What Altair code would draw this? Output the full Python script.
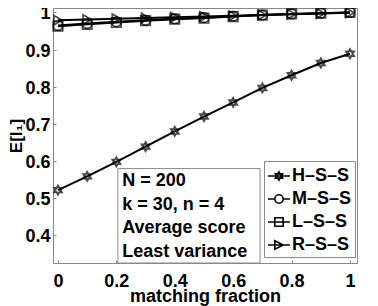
import altair as alt
import pandas as pd
import re

frac = [0.0, 0.1, 0.2, 0.3, 0.4, 0.5, 0.6, 0.7, 0.8, 0.9, 1.0]
hss = [0.522, 0.559, 0.598, 0.639, 0.680, 0.720, 0.758, 0.797, 0.831, 0.864, 0.889]
mss = [0.965, 0.970, 0.975, 0.979, 0.983, 0.986, 0.990, 0.993, 0.996, 0.998, 1.000]
lss = [0.963, 0.968, 0.973, 0.978, 0.982, 0.985, 0.989, 0.993, 0.996, 0.998, 1.000]
rss = [0.979, 0.981, 0.983, 0.985, 0.987, 0.989, 0.991, 0.993, 0.995, 0.997, 0.999]
series_names = ["H–S–S", "M–S–S", "L–S–S", "R–S–S"]
series_vals = [hss, mss, lss, rss]

x_ticks = [0, 0.2, 0.4, 0.6, 0.8, 1]
y_ticks = [0.4, 0.5, 0.6, 0.7, 0.8, 0.9, 1.0]
note_lines = ["N = 200", "k = 30, n = 4", "Average score", "Least variance"]

HEX = "M0,-1L0.866,0.5L-0.866,0.5ZM0,1L0.866,-0.5L-0.866,-0.5Z"
marker_shapes = [HEX, "circle", "square", "triangle-right"]
r = 0.38
def scale_path(p, k):
    return re.sub(r"-?\d+\.?\d*", lambda m: f"{float(m.group())*k:.3f}", p)
leg_hex = "M-1,0L1,0" + scale_path(HEX, r)
leg_circ = (f"M-1,0L{-r},0M{r},0L1,0M{r},0A{r},{r} 0 1,1 {-r},0A{r},{r} 0 1,1 {r},0")
leg_sq = f"M-1,0L1,0M{-r},{-r}L{r},{-r}L{r},{r}L{-r},{r}Z"
leg_tri = f"M-1,0L1,0M{-r},{-r}L{r},0L{-r},{r}Z"
legend_shapes = [leg_hex, leg_circ, leg_sq, leg_tri]

rows = []
for name, vals in zip(series_names, series_vals):
    for f, v in zip(frac, vals):
        rows.append({"frac": f, "val": v, "series": name})
df = pd.DataFrame(rows)

FONT = "Liberation Sans"
xscale = alt.Scale(domain=[-0.017, 1.024], nice=False, zero=False)
yscale = alt.Scale(domain=[0.326, 1.012], nice=False, zero=False)

xenc = alt.X("frac:Q", scale=xscale, title="matching fraction",
             axis=alt.Axis(values=x_ticks, format="~g", grid=False, domain=False,
                           tickSize=3, offset=-3, labelPadding=9, tickColor="#888888",
                           labelFont=FONT, labelFontSize=18, labelFontWeight="bold",
                           labelColor="black", titleFont=FONT, titleFontSize=18,
                           titleFontWeight="bold", titleColor="black", titlePadding=-3))
yenc = alt.Y("val:Q", scale=yscale, title="E[I₁]",
             axis=alt.Axis(values=y_ticks, format="~g", grid=False, domain=False,
                           tickSize=3, offset=-3, labelPadding=3, labelOffset=1.5,
                           tickColor="#888888",
                           labelFont=FONT, labelFontSize=18, labelFontWeight="bold",
                           labelColor="black", titleFont=FONT, titleFontSize=17,
                           titleFontWeight="bold", titleColor="black", titlePadding=-1))

base = alt.Chart(df)
lines = base.mark_line(color="black", strokeWidth=2).encode(
    x=xenc, y=yenc, detail="series:N")
points = base.mark_point(filled=False, color="black", strokeWidth=1.7, size=90).encode(
    x="frac:Q", y="val:Q",
    shape=alt.Shape("series:N", scale=alt.Scale(domain=series_names, range=marker_shapes),
                    legend=None))
leg = base.mark_point(filled=False, color="black", opacity=0).encode(
    x="frac:Q", y="val:Q",
    shape=alt.Shape("series:N", scale=alt.Scale(domain=series_names, range=legend_shapes),
                    legend=alt.Legend(title=None, orient="none", legendX=211, legendY=153,
                                      symbolSize=484, symbolStrokeColor="black",
                                      symbolFillColor="transparent", symbolStrokeWidth=1.6,
                                      symbolOpacity=1, labelFont=FONT, labelFontSize=18,
                                      labelFontWeight="bold", labelColor="black",
                                      labelOffset=1, rowPadding=2, padding=3,
                                      strokeColor="#888888", fillColor="white")))

note_box = pd.DataFrame([{"x1": 0.205, "x2": 0.692, "y1": 0.326, "y2": 0.58}])
box = alt.Chart(note_box).mark_rect(fill="white", stroke="#888888", strokeWidth=1).encode(
    x="x1:Q", x2="x2:Q", y="y1:Q", y2="y2:Q")
note_df = pd.DataFrame([{"x": 0.22, "y": 0.57, "t": note_lines}])
note = alt.Chart(note_df).mark_text(align="left", baseline="top", font=FONT, fontSize=18,
                                    fontWeight="bold", color="black", lineHeight=23.5).encode(
    x="x:Q", y="y:Q", text="t")

chart = alt.layer(lines, points, leg, box, note).resolve_scale(shape="independent").properties(
    width=304, height=255,
    padding={"left": 45, "top": 0, "right": 13, "bottom": 43},
    autosize=alt.AutoSizeParams(type="none"),
).configure_view(stroke="#888888", strokeWidth=1)

chart.save("out.html", embed_options={"renderer": "svg", "actions": False})
